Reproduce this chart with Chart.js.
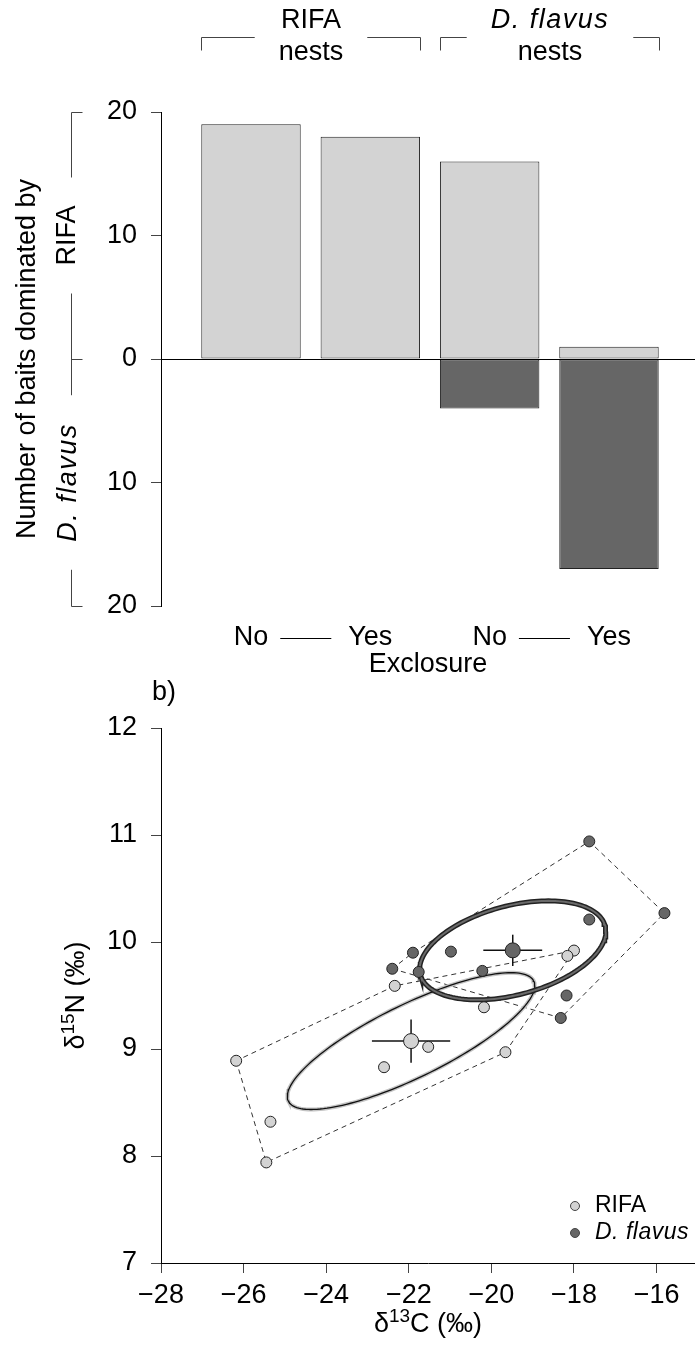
<!DOCTYPE html>
<html>
<head>
<meta charset="utf-8">
<script src="https://cdn.jsdelivr.net/npm/chart.js@4.4.1/dist/chart.umd.min.js"></script>
<style>
  html, body { margin: 0; padding: 0; background: #fff; }
  #wrap { position: relative; width: 695px; height: 1352px; overflow: hidden; }
  canvas { position: absolute; left: 0; top: 0; }
</style>
</head>
<body>
<div id="wrap">
  <canvas id="baitChart" width="695" height="1352"></canvas>
  <canvas id="isoChart" width="695" height="1352"></canvas>
</div>
<script>
// ---- panel a: baits dominated by each species
const nestTypes = ["RIFA", "D. flavus"];
const exclosure = ["No", "Yes", "No", "Yes"];
const rifaBaits = [19, 18, 16, 1];
const flavusBaits = [0, 0, 4, 17]; // drawn downwards
const baitTicks = [-20, -10, 0, 10, 20];

// ---- panel b: stable isotopes
const rifaC = [-26.18, -25.35, -25.45, -22.34, -22.6, -21.53, -20.18, -19.66, -18.0, -18.16];
const rifaN = [8.89, 8.32, 7.94, 9.59, 8.83, 9.02, 9.39, 8.97, 9.92, 9.87];
const flavusC = [-17.63, -15.81, -17.63, -21.9, -20.98, -22.4, -21.76, -20.22, -18.18, -18.32];
const flavusN = [10.94, 10.27, 10.21, 9.9, 9.91, 9.75, 9.72, 9.73, 9.5, 9.29];
const carbonTicks = [-28, -26, -24, -22, -20, -18, -16];
const nitrogenTicks = [7, 8, 9, 10, 11, 12];

const FAMILY = "'Liberation Sans', Arial, Helvetica, sans-serif";
const LIGHT = "#d3d3d3";
const DARK = "#666666";
const ITALIC_SPACING = "1.5px";

// barplot layout (width 1, space 0.2)
const barX = exclosure.map((_, i) => 0.7 + i * 1.2);

function crisp(v) {
  return Math.round(v) + 0.5;
}

function seg(ctx, x1, y1, x2, y2) {
  ctx.beginPath();
  ctx.moveTo(x1, y1);
  ctx.lineTo(x2, y2);
  ctx.stroke();
}

function rotatedText(ctx, text, x, y, font, spacing) {
  ctx.save();
  ctx.translate(x, y);
  ctx.rotate(-Math.PI / 2);
  ctx.font = font;
  ctx.letterSpacing = spacing || "0px";
  ctx.textAlign = "center";
  ctx.textBaseline = "middle";
  ctx.fillText(text, 0, 0);
  ctx.restore();
}

// text with a superscript part, centred on (0,0) of the current transform
function supText(ctx, parts, y) {
  const big = "27px " + FAMILY;
  const small = "19px " + FAMILY;
  let w = 0;
  parts.forEach(p => {
    ctx.font = p.sup ? small : big;
    p.w = ctx.measureText(p.t).width;
    w += p.w;
  });
  let x = -w / 2;
  ctx.textAlign = "left";
  ctx.textBaseline = "alphabetic";
  parts.forEach(p => {
    ctx.font = p.sup ? small : big;
    ctx.fillText(p.t, x, p.sup ? y - 10 : y);
    x += p.w;
  });
}

// keep the plot region exactly where the axes say
function noPad(s) {
  s.paddingLeft = 0;
  s.paddingRight = 0;
}

const baitDecor = {
  id: "baitDecor",
  afterDatasetsDraw(chart) {
    const { ctx, chartArea: a, scales: { x, y } } = chart;
    const half = (x.getPixelForValue(1) - x.getPixelForValue(0)) / 2;
    ctx.save();
    ctx.fillStyle = "#000";

    // zero line
    ctx.strokeStyle = "#000";
    ctx.lineWidth = 1;
    const y0 = crisp(y.getPixelForValue(0));
    seg(ctx, a.left, y0, chart.width, y0);

    // nest type brackets on top
    ctx.strokeStyle = "#444";
    ctx.textAlign = "center";
    ctx.textBaseline = "alphabetic";
    nestTypes.forEach((name, g) => {
      const left = crisp(x.getPixelForValue(barX[2 * g]) - half);
      const right = crisp(x.getPixelForValue(barX[2 * g + 1]) + half);
      const mid = (left + right) / 2;
      ctx.font = (g === 1 ? "italic " : "") + "27px " + FAMILY;
      ctx.letterSpacing = g === 1 ? ITALIC_SPACING : "0px";
      const w1 = ctx.measureText(name).width;
      ctx.fillText(name, mid, a.top - 84);
      ctx.letterSpacing = "0px";
      ctx.font = "27px " + FAMILY;
      const w2 = ctx.measureText("nests").width;
      ctx.fillText("nests", mid, a.top - 52);
      const gap = Math.max(w1, w2) / 2 + 24;
      const by = a.top - 74.5;
      ctx.beginPath();
      ctx.moveTo(left, by + 13);
      ctx.lineTo(left, by);
      ctx.lineTo(mid - gap, by);
      ctx.moveTo(mid + gap, by);
      ctx.lineTo(right, by);
      ctx.lineTo(right, by + 13);
      ctx.stroke();
    });

    // y title with species bracket
    rotatedText(ctx, "Number of baits dominated by", 28, (a.top + a.bottom) / 2, "27px " + FAMILY);
    const bx = 71.5;
    const yTop = crisp(y.getPixelForValue(20));
    const yBot = crisp(y.getPixelForValue(-20));
    const cR = y.getPixelForValue(10);
    const cF = y.getPixelForValue(-10);
    ctx.font = "27px " + FAMILY;
    const gR = ctx.measureText("RIFA").width / 2 + 28;
    ctx.font = "italic 27px " + FAMILY;
    ctx.letterSpacing = ITALIC_SPACING;
    const gF = ctx.measureText("D. flavus").width / 2 + 28;
    ctx.letterSpacing = "0px";
    rotatedText(ctx, "RIFA", 68, cR, "27px " + FAMILY);
    rotatedText(ctx, "D. flavus", 68, cF, "italic 27px " + FAMILY, ITALIC_SPACING);
    ctx.beginPath();
    ctx.moveTo(bx + 11, yTop);
    ctx.lineTo(bx, yTop);
    ctx.lineTo(bx, cR - gR);
    ctx.moveTo(bx, cR + gR);
    ctx.lineTo(bx, cF - gF);
    ctx.moveTo(bx, cF + gF);
    ctx.lineTo(bx, yBot);
    ctx.lineTo(bx + 11, yBot);
    ctx.moveTo(bx, y0);
    ctx.lineTo(bx + 11, y0);
    ctx.stroke();

    // exclosure labels
    ctx.font = "27px " + FAMILY;
    ctx.textAlign = "center";
    ctx.textBaseline = "middle";
    const ly = a.bottom + 32;
    exclosure.forEach((lab, i) => {
      ctx.fillText(lab, x.getPixelForValue(barX[i]), ly);
    });
    ctx.strokeStyle = "#000";
    for (let i = 0; i < exclosure.length; i += 2) {
      const noRight = x.getPixelForValue(barX[i]) + ctx.measureText(exclosure[i]).width / 2;
      const yesLeft = x.getPixelForValue(barX[i + 1]) - ctx.measureText(exclosure[i + 1]).width / 2;
      seg(ctx, noRight + 12, crisp(ly), yesLeft - 17, crisp(ly));
    }
    ctx.fillText("Exclosure", (a.left + a.right) / 2, a.bottom + 59);
    ctx.restore();
  }
};

new Chart(document.getElementById("baitChart"), {
  type: "bar",
  data: {
    datasets: [
      {
        label: "RIFA",
        data: rifaBaits.map((v, i) => ({ x: barX[i], y: v })),
        backgroundColor: LIGHT
      },
      {
        label: "D. flavus",
        data: flavusBaits.map((v, i) => ({ x: barX[i], y: -v })),
        backgroundColor: DARK
      }
    ].map(ds => Object.assign(ds, {
      borderColor: "#222",
      borderWidth: 1,
      borderSkipped: false,
      grouped: false,
      categoryPercentage: 1,
      barPercentage: 1 / 1.2
    }))
  },
  options: {
    responsive: false,
    animation: false,
    events: [],
    layout: { autoPadding: false, padding: { top: 112, bottom: 746, left: 0, right: 0 } },
    plugins: { legend: { display: false }, tooltip: { enabled: false } },
    scales: {
      x: {
        type: "linear",
        display: false,
        offset: false,
        min: -0.205,
        max: 5.165,
        afterBuildTicks: s => { s.ticks = barX.map(v => ({ value: v })); },
        afterFit: noPad
      },
      y: {
        min: -20,
        max: 20,
        afterBuildTicks: s => { s.ticks = baitTicks.map(v => ({ value: v })); },
        afterFit: s => { s.width = 161; },
        ticks: { callback: v => Math.abs(v), color: "#000", padding: 14, font: { family: FAMILY, size: 27 } },
        grid: { drawOnChartArea: false, tickLength: 10, color: "#444" },
        border: { color: "#000", width: 1 }
      }
    }
  },
  plugins: [baitDecor]
});

// ---- panel b helpers
function groupStats(xs, ys) {
  const n = xs.length;
  const mx = xs.reduce((s, v) => s + v, 0) / n;
  const my = ys.reduce((s, v) => s + v, 0) / n;
  let sxx = 0, syy = 0, sxy = 0;
  xs.forEach((xv, i) => {
    const dx = xv - mx, dy = ys[i] - my;
    sxx += dx * dx;
    syy += dy * dy;
    sxy += dx * dy;
  });
  return { n, mx, my, sxx: sxx / (n - 1), syy: syy / (n - 1), sxy: sxy / (n - 1) };
}

// standard ellipse (1 SD) from the covariance matrix
function ellipse(st) {
  const l11 = Math.sqrt(st.sxx);
  const l21 = st.sxy / l11;
  const l22 = Math.sqrt(st.syy - l21 * l21);
  const pts = [];
  for (let k = 0; k <= 160; k++) {
    const t = (2 * Math.PI * k) / 160;
    pts.push({ x: st.mx + l11 * Math.cos(t), y: st.my + l21 * Math.cos(t) + l22 * Math.sin(t) });
  }
  return pts;
}

// convex hull, closed
function hull(xs, ys) {
  const p = xs.map((xv, i) => ({ x: xv, y: ys[i] })).sort((a, b) => a.x - b.x || a.y - b.y);
  const cross = (o, a, b) => (a.x - o.x) * (b.y - o.y) - (a.y - o.y) * (b.x - o.x);
  const lower = [], upper = [];
  p.forEach(q => {
    while (lower.length >= 2 && cross(lower[lower.length - 2], lower[lower.length - 1], q) <= 0) lower.pop();
    lower.push(q);
  });
  p.slice().reverse().forEach(q => {
    while (upper.length >= 2 && cross(upper[upper.length - 2], upper[upper.length - 1], q) <= 0) upper.pop();
    upper.push(q);
  });
  lower.pop();
  upper.pop();
  const h = lower.concat(upper);
  h.push(h[0]);
  return h;
}

function toPoints(xs, ys) {
  return xs.map((xv, i) => ({ x: xv, y: ys[i] }));
}

const rifaSt = groupStats(rifaC, rifaN);
const flavusSt = groupStats(flavusC, flavusN);

function errorBars(st) {
  const seX = Math.sqrt(st.sxx / st.n);
  const seY = Math.sqrt(st.syy / st.n);
  return [
    [{ x: st.mx - seX, y: st.my }, { x: st.mx + seX, y: st.my }],
    [{ x: st.mx, y: st.my - seY }, { x: st.mx, y: st.my + seY }]
  ];
}

function lineSet(data, color, width, dash) {
  return {
    data,
    showLine: true,
    borderColor: color,
    borderWidth: width,
    borderDash: dash || [],
    pointRadius: 0,
    pointHoverRadius: 0,
    fill: false,
    tension: 0
  };
}

function pointSet(label, data, color, radius) {
  return {
    label,
    data,
    backgroundColor: color,
    borderColor: "#222",
    borderWidth: 1,
    pointRadius: radius,
    pointHoverRadius: radius
  };
}

// first dataset is drawn on top
const isoDatasets = [
  pointSet("RIFA mean", [{ x: rifaSt.mx, y: rifaSt.my }], LIGHT, 7.5),
  pointSet("D. flavus mean", [{ x: flavusSt.mx, y: flavusSt.my }], DARK, 7.5),
  pointSet("RIFA", toPoints(rifaC, rifaN), LIGHT, 5.5),
  pointSet("D. flavus", toPoints(flavusC, flavusN), DARK, 5.5),
  ...errorBars(rifaSt).map(d => lineSet(d, "#111", 1.5)),
  ...errorBars(flavusSt).map(d => lineSet(d, "#111", 1.5)),
  lineSet(ellipse(flavusSt), "#6a6a6a", 2),
  lineSet(ellipse(flavusSt), "#222", 5),
  lineSet(ellipse(rifaSt), "#111", 1.3),
  lineSet(ellipse(rifaSt), "#c4c4c4", 4),
  lineSet(hull(rifaC, rifaN), "#333", 1, [5, 4]),
  lineSet(hull(flavusC, flavusN), "#333", 1, [5, 4])
];

const isoDecor = {
  id: "isoDecor",
  afterDraw(chart) {
    const { ctx, chartArea: a } = chart;
    ctx.save();
    ctx.fillStyle = "#000";

    // panel letter
    ctx.font = "27px " + FAMILY;
    ctx.textAlign = "left";
    ctx.textBaseline = "alphabetic";
    ctx.fillText("b)", 152, a.top - 28);

    // axis titles
    ctx.save();
    ctx.translate((a.left + a.right) / 2, a.bottom);
    supText(ctx, [{ t: "\u03b4" }, { t: "13", sup: true }, { t: "C (\u2030)" }], 69);
    ctx.restore();
    ctx.save();
    ctx.translate(84, (a.top + a.bottom) / 2);
    ctx.rotate(-Math.PI / 2);
    supText(ctx, [{ t: "\u03b4" }, { t: "15", sup: true }, { t: "N (\u2030)" }], 0);
    ctx.restore();

    // legend
    const rows = [
      { text: "RIFA", font: "23px " + FAMILY, color: LIGHT },
      { text: "D. flavus", font: "italic 23px " + FAMILY, color: DARK }
    ];
    rows.forEach((r, i) => {
      const ry = a.bottom - 57 + i * 27;
      ctx.beginPath();
      ctx.arc(a.right - 120, ry, 4.5, 0, 2 * Math.PI);
      ctx.fillStyle = r.color;
      ctx.fill();
      ctx.strokeStyle = "#444";
      ctx.lineWidth = 1;
      ctx.stroke();
      ctx.fillStyle = "#000";
      ctx.font = r.font;
      ctx.letterSpacing = i === 1 ? "0.5px" : "0px";
      ctx.textBaseline = "middle";
      ctx.fillText(r.text, a.right - 100, ry);
    });
    ctx.restore();
  }
};

new Chart(document.getElementById("isoChart"), {
  type: "scatter",
  data: { datasets: isoDatasets },
  options: {
    responsive: false,
    animation: false,
    events: [],
    layout: { autoPadding: false, padding: { top: 728, bottom: 0, left: 0, right: 0 } },
    plugins: { legend: { display: false }, tooltip: { enabled: false } },
    scales: {
      x: {
        type: "linear",
        min: -28,
        max: -15.07,
        afterBuildTicks: s => { s.ticks = carbonTicks.map(v => ({ value: v })); },
        afterFit: s => { s.height = 89; noPad(s); },
        ticks: { callback: v => String(v).replace("-", "\u2212"), color: "#000", padding: 6, font: { family: FAMILY, size: 27 } },
        grid: { drawOnChartArea: false, tickLength: 10, color: "#444" },
        border: { color: "#000", width: 1 }
      },
      y: {
        min: 7,
        max: 12,
        afterBuildTicks: s => { s.ticks = nitrogenTicks.map(v => ({ value: v })); },
        afterFit: s => { s.width = 161; },
        ticks: { color: "#000", padding: 14, font: { family: FAMILY, size: 27 } },
        grid: { drawOnChartArea: false, tickLength: 10, color: "#444" },
        border: { color: "#000", width: 1 }
      }
    }
  },
  plugins: [isoDecor]
});
</script>
</body>
</html>
